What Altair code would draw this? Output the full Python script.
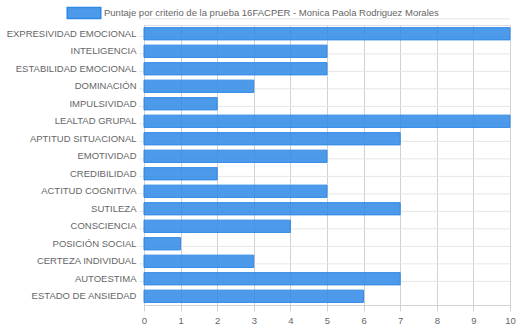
import altair as alt
import pandas as pd

categories = ["EXPRESIVIDAD EMOCIONAL", "INTELIGENCIA", "ESTABILIDAD EMOCIONAL", "DOMINACIÓN",
              "IMPULSIVIDAD", "LEALTAD GRUPAL", "APTITUD SITUACIONAL", "EMOTIVIDAD",
              "CREDIBILIDAD", "ACTITUD COGNITIVA", "SUTILEZA", "CONSCIENCIA",
              "POSICIÓN SOCIAL", "CERTEZA INDIVIDUAL", "AUTOESTIMA", "ESTADO DE ANSIEDAD"]
values = [10, 5, 5, 3, 2, 10, 7, 5, 2, 5, 7, 4, 1, 3, 7, 6]
series_name = "Puntaje por criterio de la prueba 16FACPER - Monica Paola Rodriguez Morales"
x_ticks = [0, 1, 2, 3, 4, 5, 6, 7, 8, 9, 10]

df = pd.DataFrame({"cat": categories, "val": values, "serie": [series_name] * len(values)})

W, H = 366, 280
FONT = "Liberation Sans"

yscale = alt.Scale(domain=categories, paddingInner=0.3, paddingOuter=0.15)

hgrid = alt.Chart(df).mark_rule(color="#e6e6e6", strokeWidth=1).encode(
    y=alt.Y("cat:N", scale=yscale, sort=categories),
    yOffset=alt.value(-8.75),
    x=alt.value(-5),
    x2=alt.value(W),
)

bars = alt.Chart(df).mark_bar(
    fill="#2f88e6", fillOpacity=0.85, stroke="#2f88e6", strokeWidth=1
).encode(
    x=alt.X("val:Q", scale=alt.Scale(domain=[0, 10], nice=False),
            axis=alt.Axis(values=x_ticks, title=None, grid=True, gridColor="#d2d2d2",
                          tickColor="#d2d2d2", tickSize=6, domainColor="#d2d2d2",
                          labelColor="#666666", labelFont=FONT, labelFontSize=9.5,
                          labelPadding=4, labelFlush=False)),
    y=alt.Y("cat:N", scale=yscale, sort=categories,
            axis=alt.Axis(title=None, grid=False, ticks=False, domainColor="#d2d2d2",
                          labelColor="#666666", labelFont=FONT, labelFontSize=9.5,
                          labelPadding=8)),
    color=alt.Color("serie:N", scale=alt.Scale(range=["#4e9aea"]),
                    legend=alt.Legend(title=None, orient="none", legendX=-72, legendY=-24,
                                      symbolType="M-1.5,-0.5L1.5,-0.5L1.5,0.5L-1.5,0.5Z",
                                      symbolSize=500, symbolStrokeColor="#2f88e6",
                                      symbolStrokeWidth=1.5, symbolFillColor="#4e9aea",
                                      labelFont=FONT, labelFontSize=9.5, labelColor="#666666",
                                      labelLimit=500, labelOffset=8)),
)

chart = alt.layer(hgrid, bars).properties(
    width=W, height=H,
    autosize=alt.AutoSizeParams(type="none"),
    padding={"left": 144, "top": 25, "right": 8, "bottom": 23},
).configure_view(stroke=None).configure(background="white")

chart.save("out.html", embed_options={"renderer": "svg", "actions": False})
